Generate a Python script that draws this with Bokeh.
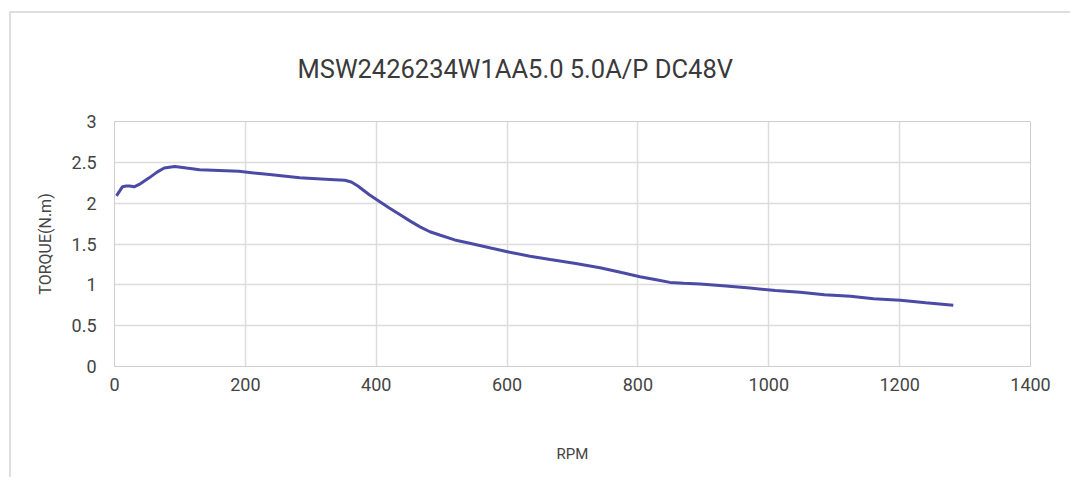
from bokeh.plotting import figure
from bokeh.embed import file_html
from bokeh.resources import INLINE
from bokeh.models import FixedTicker, Range1d

rpm = [3, 8, 12, 18, 23, 30, 40, 53, 65, 76, 92, 110, 130, 160, 190, 237, 283, 329, 352, 362, 372,
       390, 405, 420, 436, 452, 467, 482, 497, 520, 543, 575, 604, 635, 666, 705, 742, 775, 803,
       830, 849, 870, 895, 930, 971, 1010, 1048, 1085, 1125, 1160, 1201, 1240, 1282]
torque = [2.09, 2.15, 2.2, 2.21, 2.21, 2.2, 2.24, 2.31, 2.38, 2.43, 2.45, 2.43, 2.41, 2.4, 2.39,
          2.35, 2.31, 2.29, 2.28, 2.26, 2.21, 2.1, 2.02, 1.94, 1.86, 1.78, 1.71, 1.65, 1.61, 1.55,
          1.51, 1.45, 1.4, 1.35, 1.31, 1.26, 1.21, 1.15, 1.1, 1.06, 1.03, 1.02, 1.01, 0.99, 0.96,
          0.93, 0.91, 0.88, 0.86, 0.83, 0.81, 0.78, 0.75]
x_ticks = [0, 200, 400, 600, 800, 1000, 1200, 1400]
y_ticks = [0, 0.5, 1, 1.5, 2, 2.5, 3]
title_text = "MSW2426234W1AA5.0 5.0A/P DC48V"

FONT = "Roboto"

p = figure(width=1061, height=466, output_backend="svg", toolbar_location=None,
           x_range=Range1d(0, 1400), y_range=Range1d(0, 3),
           min_border_left=103, min_border_top=108, min_border_right=42, min_border_bottom=113,
           title=title_text)
p.styles = {"margin": "11px 0 0 9px", "border-left": "2px solid #dedede", "border-top": "2px solid #dedede"}

p.line(rpm, torque, line_color="#4b4ba6", line_width=3)

p.title.text_font = FONT
p.title.text_font_size = "25.5px"
p.title.text_font_style = "normal"
p.title.text_color = "#3a3a3a"
p.title.align = "left"
p.title.offset = 183
p.title.standoff = 75

p.xaxis.ticker = FixedTicker(ticks=x_ticks)
p.yaxis.ticker = FixedTicker(ticks=y_ticks)
p.yaxis.major_label_overrides = {0: "0", 0.5: "0.5", 1: "1", 1.5: "1.5", 2: "2", 2.5: "2.5", 3: "3"}
p.xaxis.axis_label = "RPM"
p.yaxis.axis_label = "TORQUE(N.m)"
for ax in (p.xaxis, p.yaxis):
    ax.major_tick_line_color = None
    ax.minor_tick_line_color = None
    ax.axis_line_color = "#cfcfcf"
    ax.major_label_text_font = FONT
    ax.major_label_text_font_size = "18px"
    ax.major_label_text_color = "#444444"
    ax.axis_label_text_font = FONT
    ax.axis_label_text_font_style = "normal"
    ax.axis_label_text_color = "#444444"
p.xaxis.axis_label_text_font_size = "15px"
p.yaxis.axis_label_text_font_size = "16px"
p.xaxis.major_label_standoff = 5
p.yaxis.major_label_standoff = 12
p.xaxis.axis_label_standoff = 51
p.yaxis.axis_label_standoff = 14

p.grid.grid_line_color = "#dcdcdc"
p.grid.grid_line_width = 1.5
p.outline_line_color = "#cfcfcf"
p.background_fill_color = "white"
p.border_fill_color = "white"

open("out.html", "w").write(file_html(p, INLINE))
